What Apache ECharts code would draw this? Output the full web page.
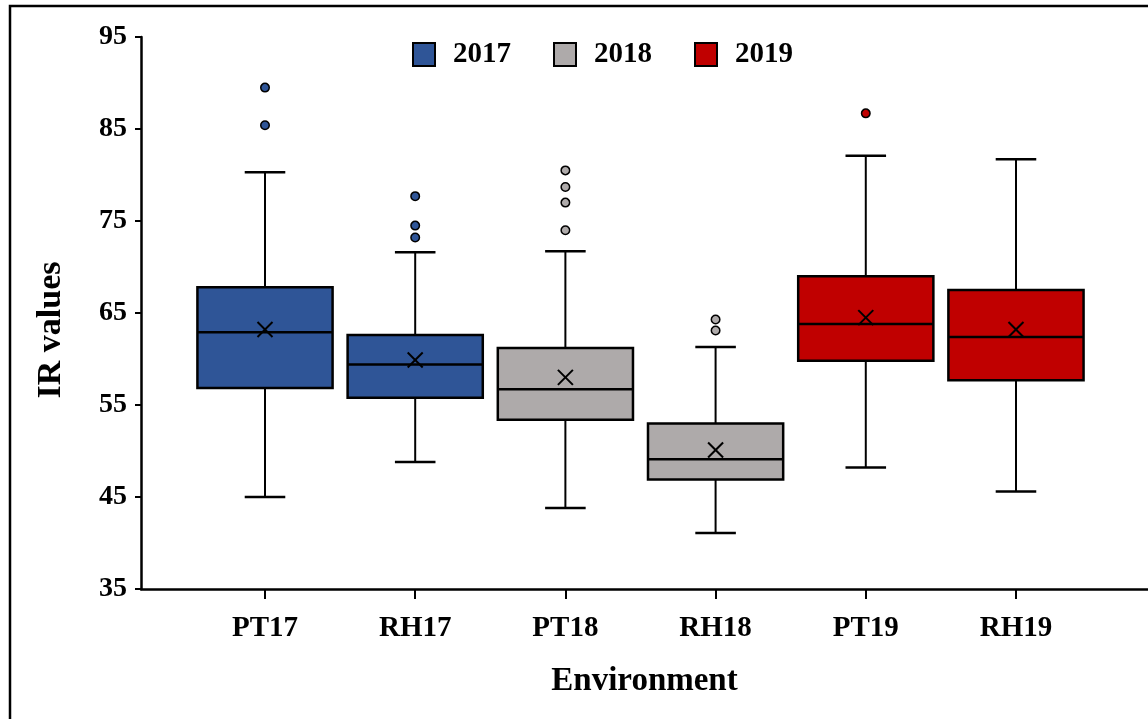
<!DOCTYPE html>
<html>
<head>
<meta charset="utf-8">
<script src="https://cdn.jsdelivr.net/npm/echarts@6/dist/echarts.min.js"></script>
<style>
html,body{margin:0;padding:0;background:#fff;}
#chart{width:1148px;height:719px;}
</style>
</head>
<body>
<div id="chart"></div>
<script>
// ---- data ----
const categories = ['PT17', 'RH17', 'PT18', 'RH18', 'PT19', 'RH19'];
const years = ['2017', '2017', '2018', '2018', '2019', '2019'];
const whiskerLow = [45.0, 48.8, 43.8, 41.1, 48.2, 45.6];
const q1 = [56.85, 55.8, 53.4, 46.9, 59.8, 57.7];
const median = [62.9, 59.4, 56.7, 49.1, 63.8, 62.4];
const q3 = [67.8, 62.6, 61.2, 53.0, 69.0, 67.5];
const whiskerHigh = [80.3, 71.6, 71.7, 61.3, 82.1, 81.7];
const mean = [63.2, 59.9, 58.0, 50.1, 64.5, 63.2];
const outliers = [
  [89.5, 85.4],
  [77.7, 74.5, 73.2],
  [80.5, 78.7, 77.0, 74.0],
  [64.3, 63.1],
  [86.7],
  []
];
const yearNames = ['2017', '2018', '2019'];
const yTicks = [35, 45, 55, 65, 75, 85, 95];

// ---- styles ----
const yearColors = { '2017': '#2F5597', '2018': '#AEAAAA', '2019': '#C00000' };
const FONT = 'Liberation Serif';

function renderBox(params, api) {
  const x = api.value(0);
  const lo = api.value(1), b1 = api.value(2), md = api.value(3), b3 = api.value(4), hi = api.value(5), mn = api.value(6);
  const pLo = api.coord([x, lo]);
  const pQ1 = api.coord([x, b1]);
  const pMd = api.coord([x, md]);
  const pQ3 = api.coord([x, b3]);
  const pHi = api.coord([x, hi]);
  const pMn = api.coord([x, mn]);
  const bw = api.size([0.9, 0])[0];
  const cw = api.size([0.27, 0])[0];
  const cx = pMd[0];
  const color = api.visual('color');
  const line = { stroke: '#000', lineWidth: 2 };
  const xs = 7.5;
  return {
    type: 'group',
    children: [
      { type: 'line', shape: { x1: cx, y1: pQ3[1], x2: cx, y2: pHi[1] }, style: line },
      { type: 'line', shape: { x1: cx, y1: pQ1[1], x2: cx, y2: pLo[1] }, style: line },
      { type: 'line', shape: { x1: cx - cw / 2, y1: pHi[1], x2: cx + cw / 2, y2: pHi[1] }, style: { stroke: '#000', lineWidth: 2.5 } },
      { type: 'line', shape: { x1: cx - cw / 2, y1: pLo[1], x2: cx + cw / 2, y2: pLo[1] }, style: { stroke: '#000', lineWidth: 2.5 } },
      { type: 'rect', shape: { x: cx - bw / 2, y: pQ3[1], width: bw, height: pQ1[1] - pQ3[1] }, style: { fill: color, stroke: '#000', lineWidth: 2.5 } },
      { type: 'line', shape: { x1: cx - bw / 2, y1: pMd[1], x2: cx + bw / 2, y2: pMd[1] }, style: { stroke: '#000', lineWidth: 2.5 } },
      { type: 'line', shape: { x1: cx - xs, y1: pMn[1] - xs, x2: cx + xs, y2: pMn[1] + xs }, style: { stroke: '#000', lineWidth: 2 } },
      { type: 'line', shape: { x1: cx - xs, y1: pMn[1] + xs, x2: cx + xs, y2: pMn[1] - xs }, style: { stroke: '#000', lineWidth: 2 } }
    ]
  };
}

const series = [];
yearNames.forEach(function (yr) {
  const boxData = [];
  const outData = [];
  categories.forEach(function (c, i) {
    if (years[i] !== yr) return;
    boxData.push([i, whiskerLow[i], q1[i], median[i], q3[i], whiskerHigh[i], mean[i]]);
    outliers[i].forEach(function (v) { outData.push([i, v]); });
  });
  series.push({
    name: yr,
    type: 'custom',
    renderItem: renderBox,
    itemStyle: { color: yearColors[yr], borderColor: '#000', borderWidth: 2 },
    encode: { x: 0, y: [1, 2, 3, 4, 5] },
    data: boxData,
    z: 2
  });
  series.push({
    name: yr,
    type: 'scatter',
    symbol: 'circle',
    symbolSize: 8.5,
    itemStyle: { color: yearColors[yr], borderColor: '#000', borderWidth: 1.5, opacity: 1 },
    data: outData,
    z: 3
  });
});

const chart = echarts.init(document.getElementById('chart'), null, { renderer: 'canvas' });
chart.setOption({
  backgroundColor: '#fff',
  animation: false,
  graphic: [{
    type: 'rect',
    shape: { x: 10, y: 6, width: 1300, height: 900 },
    style: { fill: 'none', stroke: '#000', lineWidth: 2.5 },
    silent: true,
    z: 100
  }],
  legend: {
    data: yearNames,
    left: 407,
    top: 35,
    itemWidth: 22,
    itemHeight: 23,
    itemGap: 42,
    icon: 'rect',
    itemStyle: { borderColor: '#000', borderWidth: 2 },
    textStyle: { fontFamily: FONT, fontWeight: 'bold', fontSize: 29, color: '#000', padding: [0, 0, 0, 13] }
  },
  grid: { left: 141, right: 0, top: 37, bottom: 130, containLabel: false },
  xAxis: {
    type: 'value',
    min: -0.8256,
    max: 5.879,
    name: 'Environment',
    nameLocation: 'middle',
    nameGap: 76,
    nameTextStyle: { fontFamily: FONT, fontWeight: 'bold', fontSize: 33, color: '#000' },
    axisLine: { show: true, onZero: false, lineStyle: { color: '#000', width: 2.5 } },
    axisTick: { show: true, customValues: [0, 1, 2, 3, 4, 5], length: 10, lineStyle: { color: '#000', width: 2 } },
    axisLabel: {
      customValues: [0, 1, 2, 3, 4, 5],
      formatter: function (v) { return categories[Math.round(v)] || ''; },
      fontFamily: FONT, fontWeight: 'bold', fontSize: 29, color: '#000', margin: 25
    },
    splitLine: { show: false }
  },
  yAxis: {
    type: 'value',
    min: 35,
    max: 95,
    interval: 10,
    name: 'IR values',
    nameLocation: 'middle',
    nameGap: 73,
    nameTextStyle: { fontFamily: FONT, fontWeight: 'bold', fontSize: 34, color: '#000', padding: [0, 34, 0, 0] },
    axisLine: { show: true, onZero: false, lineStyle: { color: '#000', width: 2.5 } },
    axisTick: { show: true, length: 6, lineStyle: { color: '#000', width: 2 } },
    axisLabel: {
      customValues: yTicks,
      fontFamily: FONT, fontWeight: 'bold', fontSize: 28, color: '#000', margin: 14
    },
    splitLine: { show: false }
  },
  series: series
});
</script>
</body>
</html>
